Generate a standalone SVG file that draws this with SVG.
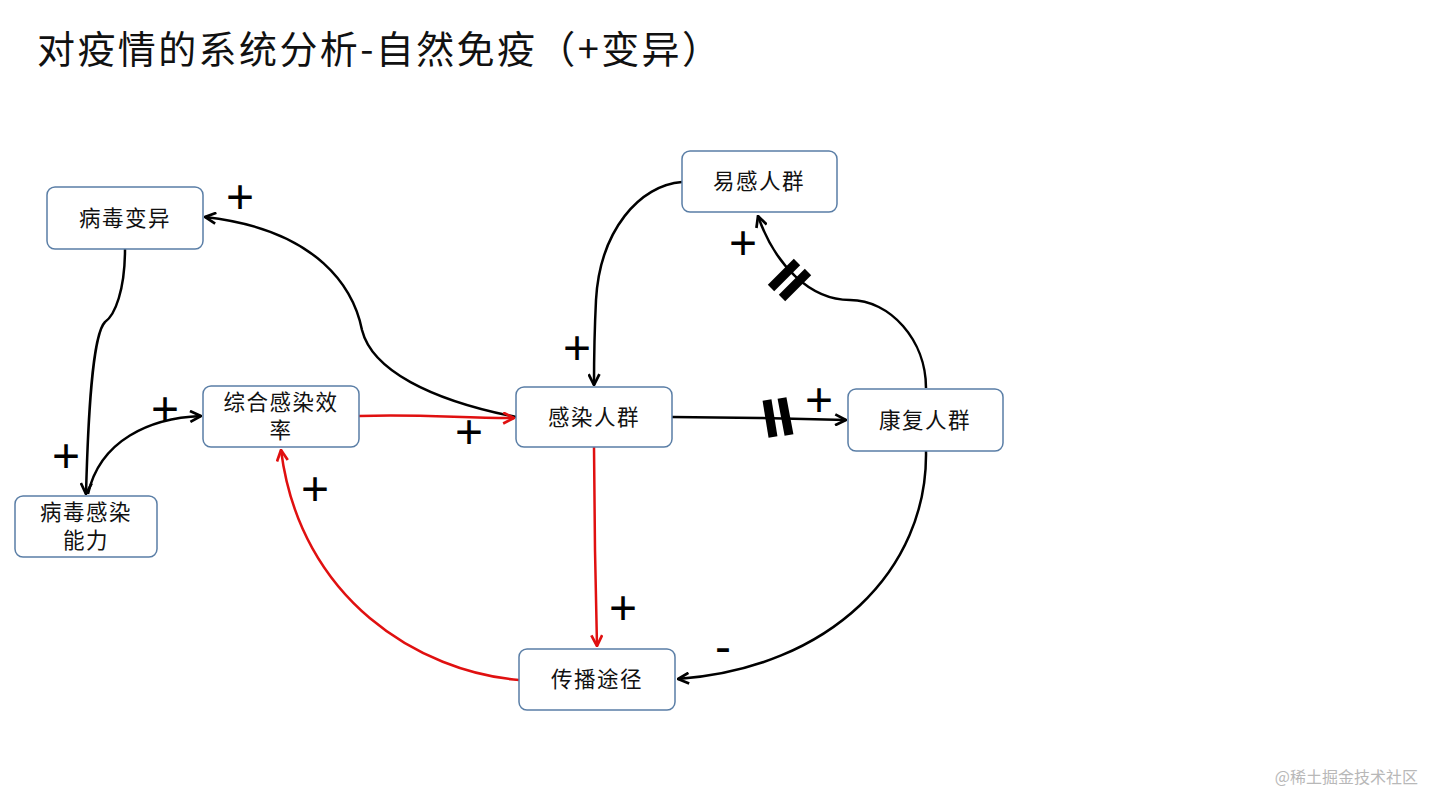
<svg xmlns="http://www.w3.org/2000/svg" width="1440" height="810" viewBox="0 0 1440 810">
<style>
.box{fill:#fff;stroke:#5a7ea6;stroke-width:1.5}
.lbl{font-family:"Noto Sans CJK SC","Noto Sans",sans-serif;font-size:21.5px;letter-spacing:1.5px;fill:#111;text-anchor:middle}
.c{fill:none;stroke:#000;stroke-width:2.5}
.r{fill:none;stroke:#e01010;stroke-width:2.5}
.sign{font-family:"Liberation Sans",Arial,sans-serif;font-size:48px;fill:#000;text-anchor:middle}
.bar{stroke:#000;stroke-width:9}
</style>
<defs>
<marker id="ab" viewBox="0 0 12 12" refX="11" refY="6" markerWidth="13" markerHeight="13" markerUnits="userSpaceOnUse" orient="auto">
<path d="M1,1 L11,6 L1,11" fill="none" stroke="#000" stroke-width="2.5"/>
</marker>
<marker id="ar" viewBox="0 0 12 12" refX="11" refY="6" markerWidth="13" markerHeight="13" markerUnits="userSpaceOnUse" orient="auto">
<path d="M1,1 L11,6 L1,11" fill="none" stroke="#e01010" stroke-width="2.5"/>
</marker>
</defs>
<rect width="1440" height="810" fill="#fff"/>
<text x="37" y="63" font-family="'Noto Sans CJK SC','Noto Sans',sans-serif" font-size="38" fill="#111" textLength="683" lengthAdjust="spacing">对疫情的系统分析-自然免疫（+变异）</text>

<g id="connectors">
<path class="c" d="M516,417 C430,400 372,370 362,330 C354,290 320,230 205,217" marker-end="url(#ab)"/>
<path class="c" d="M125,249 C125,290 115,315 105,322 C92,335 88,420 86,494" marker-end="url(#ab)"/>
<path class="c" d="M88,494 C100,440 150,418 201,416" marker-end="url(#ab)"/>
<path class="r" d="M359,416 C420,414 460,418 514,418" marker-end="url(#ar)"/>
<path class="c" d="M682,182 C640,185 600,230 596,300 C594,340 594,360 594,385" marker-end="url(#ab)"/>
<path class="c" d="M672,417 L760,418 L846,420" marker-end="url(#ab)"/>
<path class="c" d="M926,388 C926,340 890,300 850,300 C810,300 775,265 758,216" marker-end="url(#ab)"/>
<path class="c" d="M926,451 C928,570 830,668 678,679" marker-end="url(#ab)"/>
<path class="r" d="M594,447 L595,550 L597,646" marker-end="url(#ar)"/>
<path class="r" d="M519,680 C420,672 300,600 281,450" marker-end="url(#ar)"/>
<line class="bar" x1="767" y1="400" x2="773" y2="437"/>
<line class="bar" x1="782" y1="398" x2="789" y2="435"/>
<line class="bar" x1="771" y1="288" x2="797" y2="262"/>
<line class="bar" x1="782" y1="298" x2="808" y2="272"/>
</g>

<g id="signs">
<text class="sign" x="240" y="213">+</text>
<text class="sign" x="66" y="472">+</text>
<text class="sign" x="165" y="425">+</text>
<text class="sign" x="469" y="448">+</text>
<text class="sign" x="577" y="364">+</text>
<text class="sign" x="819" y="416">+</text>
<text class="sign" x="743" y="259">+</text>
<text class="sign" x="623" y="624">+</text>
<text class="sign" x="315" y="505">+</text>
<text class="sign" x="723" y="663">-</text>
</g>

<g id="n-bingduBianyi"><rect class="box" x="47" y="187" width="156" height="62" rx="8"/><text class="lbl" x="125" y="226">病毒变异</text></g>
<g id="n-bingduGanran"><rect class="box" x="15" y="496" width="142" height="61" rx="8"/><text class="lbl"><tspan x="86" y="520">病毒感染</tspan><tspan x="86" y="548">能力</tspan></text></g>
<g id="n-zonghe"><rect class="box" x="203" y="386" width="156" height="61" rx="8"/><text class="lbl"><tspan x="281" y="410">综合感染效</tspan><tspan x="281" y="438">率</tspan></text></g>
<g id="n-yigan"><rect class="box" x="682" y="151" width="155" height="61" rx="8"/><text class="lbl" x="759" y="189">易感人群</text></g>
<g id="n-ganran"><rect class="box" x="516" y="387" width="156" height="60" rx="8"/><text class="lbl" x="594" y="425">感染人群</text></g>
<g id="n-kangfu"><rect class="box" x="848" y="389" width="155" height="62" rx="8"/><text class="lbl" x="925" y="428">康复人群</text></g>
<g id="n-chuanbo"><rect class="box" x="519" y="649" width="156" height="61" rx="8"/><text class="lbl" x="597" y="687">传播途径</text></g>

<text x="1418" y="783" font-family="'Noto Sans CJK SC','Noto Sans',sans-serif" font-size="16" fill="#b8b8b8" text-anchor="end">@稀土掘金技术社区</text>
</svg>
